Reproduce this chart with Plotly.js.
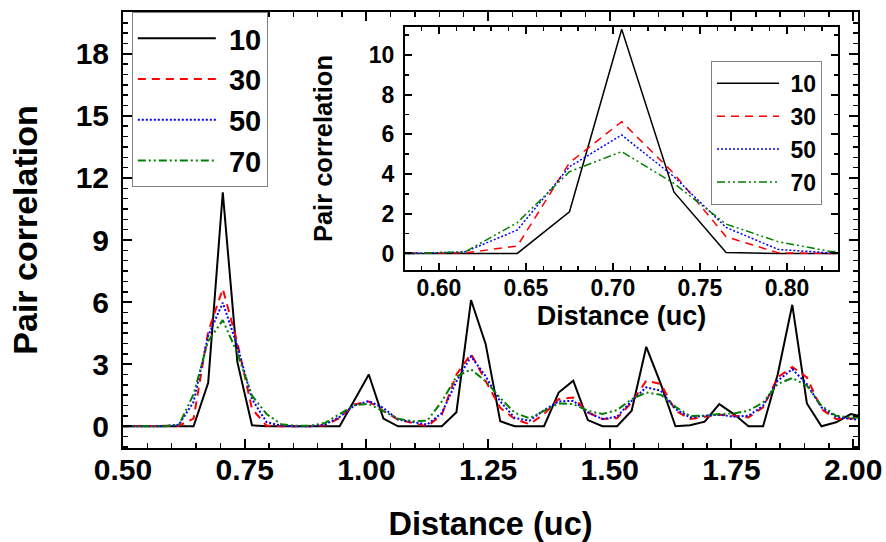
<!DOCTYPE html>
<html>
<head>
<meta charset="utf-8">
<script src="https://cdn.plot.ly/plotly-3.0.1.min.js"></script>
<style>
html,body{margin:0;padding:0;background:#fff;}
#chart{width:886px;height:542px;}
</style>
</head>
<body>
<div id="chart"></div>
<script>
// Distance bins (uc)
var distance = [0.495,0.525,0.555,0.585,0.615,0.645,0.675,0.705,0.735,0.765,0.795,0.825,0.855,0.885,0.915,0.945,0.975,1.005,1.035,1.065,1.095,1.125,1.155,1.185,1.215,1.245,1.275,1.305,1.335,1.365,1.395,1.425,1.455,1.485,1.515,1.545,1.575,1.605,1.635,1.665,1.695,1.725,1.755,1.785,1.815,1.845,1.875,1.905,1.935,1.965,1.995,2.025];
// Pair correlation series
var g10 = [0,0,0,0,0,0,2.1,11.3,3.1,0.05,0,0,0,0,0,0,1.25,2.5,0.37,0,0,0,0,0.68,6.1,3.98,0.24,0,0,0,1.63,2.2,0.3,0,0,0.75,3.84,2.04,0,0.05,0.22,1.07,0.59,0,0,2.5,5.87,1.1,0,0.19,0.59,0.45];
var g30 = [0,0,0,0,0.03,0.37,4.57,6.64,4.03,0.84,0.03,0,0,0,0.05,0.4,1.05,1.2,0.75,0.32,0.16,0,0.56,2.5,3.5,2.2,0.89,0.35,0.1,0.59,1.31,1.39,0.67,0.35,0.39,1.15,2.2,2.04,0.75,0.35,0.46,0.56,0.51,0.43,0.91,2.36,2.87,2.36,0.83,0.35,0.38,0.35];
var g50 = [0,0,0,0,0.08,1.18,4.37,5.97,3.87,1.31,0.2,0.03,0,0,0.08,0.45,1.0,1.22,0.89,0.32,0.21,0.08,0.64,2.17,3.38,2.42,1.2,0.4,0.27,0.78,1.2,1.23,0.67,0.35,0.46,1.23,1.88,1.72,0.83,0.43,0.51,0.56,0.46,0.51,0.99,2.2,2.76,2.04,0.91,0.46,0.35,0.3];
var g70 = [0,0,0,0,0.08,1.55,4.12,5.13,3.53,1.48,0.59,0.1,0.02,0.03,0.16,0.58,1.02,1.08,0.72,0.37,0.24,0.27,1.2,2.4,2.75,2.17,1.37,0.65,0.39,0.75,1.1,1.07,0.75,0.59,0.78,1.31,1.63,1.52,0.94,0.5,0.51,0.59,0.62,0.75,1.15,2.04,2.33,1.96,0.99,0.51,0.43,0.4];
var seriesNames = ['10','30','50','70'];
var seriesData = [g10, g30, g50, g70];
var seriesColors = ['#000000','#ff0000','#0000ff','#008000'];
var seriesDash = ['solid','8px,6px','2px,2px','8px,3px,2px,3px,2px,3px'];

var FONT = 'Liberation Sans, Arial, Helvetica, sans-serif';
var NB = '\u00a0';
var traces = [];
for (var i = 0; i < 4; i++) {
  traces.push({
    x: distance, y: seriesData[i], type: 'scatter', mode: 'lines',
    name: NB + seriesNames[i], xaxis: 'x', yaxis: 'y', legend: 'legend',
    line: {color: seriesColors[i], width: 2, dash: seriesDash[i]}
  });
}
for (var j = 0; j < 4; j++) {
  traces.push({
    x: distance, y: seriesData[j], type: 'scatter', mode: 'lines',
    name: NB + seriesNames[j], xaxis: 'x2', yaxis: 'y2', legend: 'legend2',
    line: {color: seriesColors[j], width: 1.5, dash: seriesDash[j]}
  });
}

function axisBase() {
  return {
    showline: true, linecolor: '#000', linewidth: 2, mirror: 'allticks',
    ticks: 'inside', ticklen: 9, tickwidth: 2, tickcolor: '#000',
    showgrid: false, zeroline: false, fixedrange: true
  };
}

var xa = Object.assign(axisBase(), {
  domain: [0, 1], anchor: 'y', range: [0.5, 2.01], tick0: 0.5, dtick: 0.25, tickformat: '.2f',
  tickfont: {family: FONT, size: 30, weight: 700, color: '#000'},
  ticklabelstandoff: -6,
  minor: {dtick: 0.05, tick0: 0.5, ticks: 'inside', ticklen: 5, tickwidth: 1.5, tickcolor: '#000'},
  title: {text: 'Distance (uc)', font: {family: FONT, size: 32.5, weight: 700, color: '#000'}, standoff: 30}
});
var ya = Object.assign(axisBase(), {
  domain: [0, 1], anchor: 'x', range: [-1.05, 20.02], tick0: 0, dtick: 3,
  tickfont: {family: FONT, size: 30, weight: 700, color: '#000'},
  ticklabelstandoff: 6,
  minor: {dtick: 0.5, tick0: 0, ticks: 'inside', ticklen: 5, tickwidth: 1.5, tickcolor: '#000'},
  title: {text: 'Pair correlation', font: {family: FONT, size: 34, weight: 700, color: '#000'}, standoff: 28}
});
var xa2 = Object.assign(axisBase(), {
  domain: [0.3837, 0.9728], anchor: 'y2', range: [0.5805, 0.8293], tick0: 0.6, dtick: 0.05, tickformat: '.2f',
  tickfont: {family: FONT, size: 23, weight: 700, color: '#000'},
  ticklen: 7, ticklabelstandoff: -4,
  minor: {dtick: 0.01, tick0: 0.6, ticks: 'inside', ticklen: 4, tickwidth: 1.5, tickcolor: '#000'},
  title: {text: 'Distance (uc)', font: {family: FONT, size: 27, weight: 700, color: '#000'}, standoff: 2}
});
var ya2 = Object.assign(axisBase(), {
  domain: [0.408, 0.9656], anchor: 'x2', range: [-0.84, 11.41], tick0: 0, dtick: 2,
  tickfont: {family: FONT, size: 23, weight: 700, color: '#000'},
  ticklen: 7, ticklabelstandoff: 4,
  minor: {dtick: 1, tick0: 0, ticks: 'inside', ticklen: 4, tickwidth: 1.5, tickcolor: '#000'},
  title: {text: 'Pair correlation', font: {family: FONT, size: 25.5, weight: 700, color: '#000'}, standoff: 29}
});

var layout = {
  width: 886, height: 542,
  margin: {l: 123, r: 28, t: 12, b: 94},
  paper_bgcolor: '#fff', plot_bgcolor: '#fff',
  font: {family: FONT, color: '#000'},
  xaxis: xa, yaxis: ya, xaxis2: xa2, yaxis2: ya2,
  legend: {
    x: 0.012, y: 1.0, xanchor: 'left', yanchor: 'top',
    bgcolor: '#fff', bordercolor: '#808080', borderwidth: 1,
    font: {family: FONT, size: 29, weight: 700, color: '#000'},
    itemwidth: 78, tracegroupgap: 0
  },
  legend2: {
    x: 0.8, y: 0.888, xanchor: 'left', yanchor: 'top',
    bgcolor: '#fff', bordercolor: '#808080', borderwidth: 1,
    font: {family: FONT, size: 23, weight: 700, color: '#000'},
    itemwidth: 62, tracegroupgap: 0
  },
  showlegend: true
};

Plotly.newPlot('chart', traces, layout, {displayModeBar: false, staticPlot: true});
</script>
</body>
</html>
